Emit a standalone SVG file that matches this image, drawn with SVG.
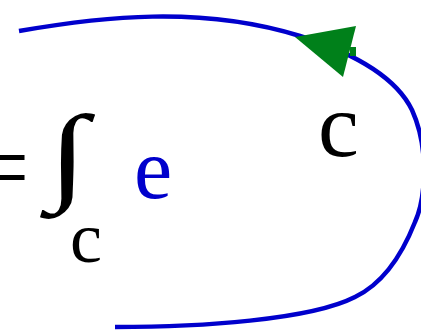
<svg xmlns="http://www.w3.org/2000/svg" width="421" height="330" viewBox="0 0 421 330">
<defs>
<path id="loop" d="M19,31 C100,17 200,5 300,36 C350,52 395,75 412,110 C430,150 425,200 415,222 C400,260 380,285 355,297 C310,320 200,327 115,327"/>
</defs>
<rect width="421" height="330" fill="#fff"/>
<g id="connectors">
<use href="#loop" fill="none" stroke="#0000cc" stroke-width="4.5"/>
<g id="arrowhead" fill="#00801a">
<rect x="350" y="47" width="6" height="9"/>
<polygon points="356,26 343,77 295,37"/>
</g>
</g>
<g id="formula" fill="#000" font-family="Liberation Serif">
<text x="-27" y="201" font-size="100">=</text>
<text font-size="108" font-weight="bold" transform="translate(48,190) scale(1.35,1)">∫</text>
<text x="70" y="262" font-size="72">c</text>
<text x="134" y="198" font-size="86" fill="#0000cc">e</text>
</g>
<g id="label-c" fill="#000" font-family="Liberation Serif">
<text x="318" y="156" font-size="92">c</text>
</g>
</svg>
